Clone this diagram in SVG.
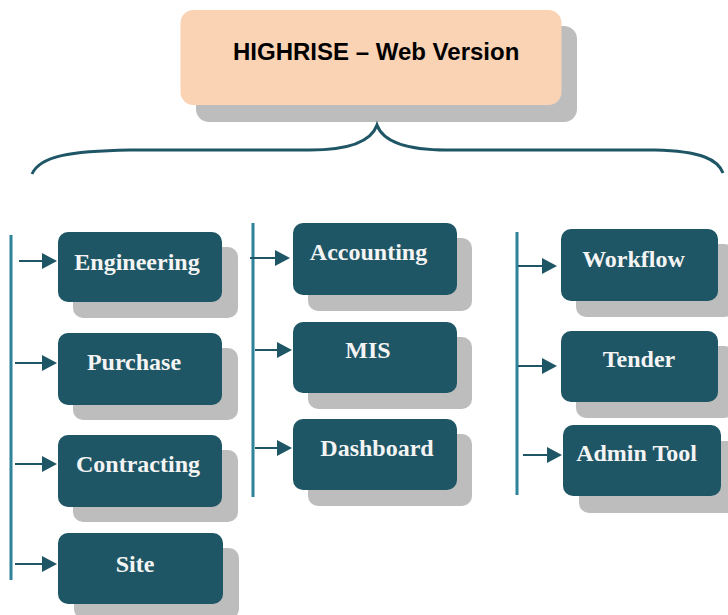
<svg xmlns="http://www.w3.org/2000/svg" width="728" height="615" viewBox="0 0 728 615">
<style>
.sh{fill:#BDBDBD}
.nd{fill:#1F5665}
.lb{font-family:"Liberation Serif","Times New Roman",serif;font-weight:bold;font-size:24px;fill:#F4F4F4;text-anchor:middle}
.ti{font-family:"Liberation Sans",Arial,sans-serif;font-weight:bold;font-size:24px;fill:#000}
.bar{stroke:#2E8299;stroke-width:3;fill:none}
.ar{stroke:#1F5665;stroke-width:2;fill:none}
.hd{fill:#1F5665}
</style>
<defs>
<g id="tip"><path d="M0,0 L-15,-8 L-15,8 Z" class="hd"/></g>
</defs>
<rect width="728" height="615" fill="#FFFFFF"/>
<g id="root">
<rect class="sh" x="196" y="26" width="381" height="96" rx="13"/>
<rect x="180.5" y="10" width="381" height="95" rx="13" fill="#FAD3B5"/>
<text class="ti" x="233" y="60">HIGHRISE – Web Version</text>
</g>
<g id="connectors">
<path d="M32,174 C40,156 70,151 130,150 L310,150 C348,150 371,142 377,125 C383,142 408,150 447,150 L655,150 C702,151 718,160 723,173" stroke="#1F5665" stroke-width="3" fill="none"/>
<line class="bar" x1="11" y1="235" x2="11" y2="580"/>
<line class="bar" x1="253" y1="223" x2="253" y2="497"/>
<line class="bar" x1="517" y1="232" x2="517" y2="495"/>
<line class="ar" x1="19" y1="261" x2="44" y2="261"/><use href="#tip" x="57" y="261"/>
<line class="ar" x1="15" y1="363" x2="44" y2="363"/><use href="#tip" x="57" y="363"/>
<line class="ar" x1="15" y1="464" x2="44" y2="464"/><use href="#tip" x="57" y="464"/>
<line class="ar" x1="15" y1="564" x2="44" y2="564"/><use href="#tip" x="57" y="564"/>
<line class="ar" x1="250" y1="258" x2="277" y2="258"/><use href="#tip" x="290" y="258"/>
<line class="ar" x1="255" y1="350" x2="279" y2="350"/><use href="#tip" x="292" y="350"/>
<line class="ar" x1="255" y1="448" x2="279" y2="448"/><use href="#tip" x="292" y="448"/>
<line class="ar" x1="518" y1="266" x2="544" y2="266"/><use href="#tip" x="557" y="266"/>
<line class="ar" x1="518" y1="366" x2="544" y2="366"/><use href="#tip" x="557" y="366"/>
<line class="ar" x1="523" y1="455" x2="549" y2="455"/><use href="#tip" x="562" y="455"/>
</g>
<g id="engineering">
<rect class="sh" x="73" y="247" width="165" height="71" rx="10"/>
<rect class="nd" x="58" y="232" width="164" height="70" rx="10"/>
<text class="lb" x="137" y="270">Engineering</text>
</g>
<g id="purchase">
<rect class="sh" x="73" y="348" width="165" height="72" rx="10"/>
<rect class="nd" x="58" y="333" width="164" height="72" rx="10"/>
<text class="lb" x="134" y="370">Purchase</text>
</g>
<g id="contracting">
<rect class="sh" x="73" y="450" width="165" height="72" rx="10"/>
<rect class="nd" x="58" y="435" width="164" height="72" rx="10"/>
<text class="lb" x="138" y="472">Contracting</text>
</g>
<g id="site">
<rect class="sh" x="74" y="548" width="165" height="71" rx="10"/>
<rect class="nd" x="58" y="533" width="165" height="71" rx="10"/>
<text class="lb" x="135" y="572">Site</text>
</g>
<g id="accounting">
<rect class="sh" x="308" y="238" width="164" height="73" rx="10"/>
<rect class="nd" x="293" y="223" width="164" height="72" rx="10"/>
<text class="lb" x="368.5" y="260">Accounting</text>
</g>
<g id="mis">
<rect class="sh" x="308" y="337" width="164" height="72" rx="10"/>
<rect class="nd" x="293" y="322" width="164" height="71" rx="10"/>
<text class="lb" x="368" y="358">MIS</text>
</g>
<g id="dashboard">
<rect class="sh" x="308" y="434" width="164" height="72" rx="10"/>
<rect class="nd" x="293" y="419" width="164" height="71" rx="10"/>
<text class="lb" x="377" y="456">Dashboard</text>
</g>
<g id="workflow">
<rect class="sh" x="576" y="244" width="158" height="73" rx="10"/>
<rect class="nd" x="561" y="229" width="157" height="72" rx="10"/>
<text class="lb" x="633.5" y="267">Workflow</text>
</g>
<g id="tender">
<rect class="sh" x="576" y="346" width="158" height="72" rx="10"/>
<rect class="nd" x="561" y="331" width="157" height="71" rx="10"/>
<text class="lb" x="639" y="367">Tender</text>
</g>
<g id="admin-tool">
<rect class="sh" x="579" y="441" width="158" height="72" rx="10"/>
<rect class="nd" x="563" y="425" width="158" height="71" rx="10"/>
<text class="lb" x="636.5" y="461">Admin Tool</text>
</g>
</svg>
